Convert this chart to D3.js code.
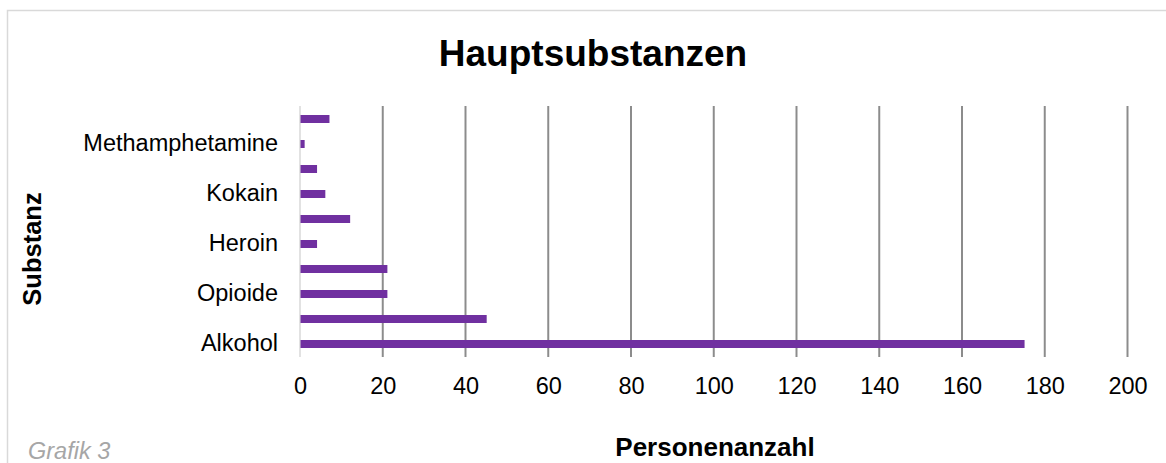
<!DOCTYPE html>
<html><head><meta charset="utf-8">
<script src="https://cdn.jsdelivr.net/npm/d3@7"></script>
<style>body{margin:0;background:#fff}svg{display:block}text{font-family:"Liberation Sans",Arial,sans-serif}</style>
</head><body><svg id="c" width="1166" height="463"></svg>
<script>
const categories = ["Alkohol","Cannabis","Opioide","Benzodiazepine","Heroin","Amphetamine","Kokain","Medikamente","Methamphetamine","Sonstige"];
const values = [175, 45, 21, 21, 4, 12, 6, 4, 1, 7];
const tickValues = [0,20,40,60,80,100,120,140,160,180,200];

const svg = d3.select("#c");
svg.append("rect").attr("x",7.5).attr("y",10.5).attr("width",1170).attr("height",470)
  .attr("fill","#fff").attr("stroke","#d9d9d9").attr("stroke-width",1.5);

const x = d3.scaleLinear().domain([0,200]).range([300,1127.5]);
const y = d3.scaleBand().domain(categories).range([356.5,106.5]).paddingInner(0.68).paddingOuter(0.34);

// gridlines
svg.append("g").selectAll("line").data(tickValues.slice(1)).join("line")
  .attr("x1",d=>x(d)).attr("x2",d=>x(d)).attr("y1",106).attr("y2",357)
  .attr("stroke","#8c8c8c").attr("stroke-width",2);
// y axis line
svg.append("line").attr("x1",300).attr("x2",300).attr("y1",106).attr("y2",357)
  .attr("stroke","#d9d9d9").attr("stroke-width",1.5);

svg.append("g").selectAll("rect").data(values).join("rect")
  .attr("x",x(0)+0.5).attr("y",(d,i)=>y(categories[i]))
  .attr("width",d=>x(d)-x(0)).attr("height",y.bandwidth())
  .attr("fill","#7030a0");

const xAxis = d3.axisBottom(x).tickValues(tickValues).tickSize(0).tickPadding(0);
const gx = svg.append("g").attr("transform","translate(0,377)").call(xAxis);
gx.select(".domain").remove();
gx.selectAll("text").attr("font-size","23.5px").attr("fill","#000").attr("dy","0.71em")
  .style("font-family","'Liberation Sans',Arial,sans-serif");

const yAxis = d3.axisLeft(y).tickSize(0).tickPadding(0).tickFormat((d,i)=> i%2===0 ? d : "");
const gy = svg.append("g").attr("transform","translate(278,0)").call(yAxis);
gy.select(".domain").remove();
gy.selectAll("text").attr("font-size","23.5px").attr("fill","#000").attr("dy","0.3em")
  .style("font-family","'Liberation Sans',Arial,sans-serif");

svg.append("text").attr("x",593).attr("y",66).attr("text-anchor","middle")
  .attr("font-size","37px").attr("font-weight","bold").text("Hauptsubstanzen");
svg.append("text").attr("x",715).attr("y",456).attr("text-anchor","middle")
  .attr("font-size","26px").attr("font-weight","bold").text("Personenanzahl");
svg.append("text").attr("transform","translate(41,249) rotate(-90)").attr("text-anchor","middle")
  .attr("font-size","25.5px").attr("font-weight","bold").text("Substanz");
svg.append("text").attr("x",28).attr("y",459).attr("font-size","23.5px").attr("font-style","italic")
  .attr("fill","#a6a6a6").text("Grafik 3");
</script></body></html>
